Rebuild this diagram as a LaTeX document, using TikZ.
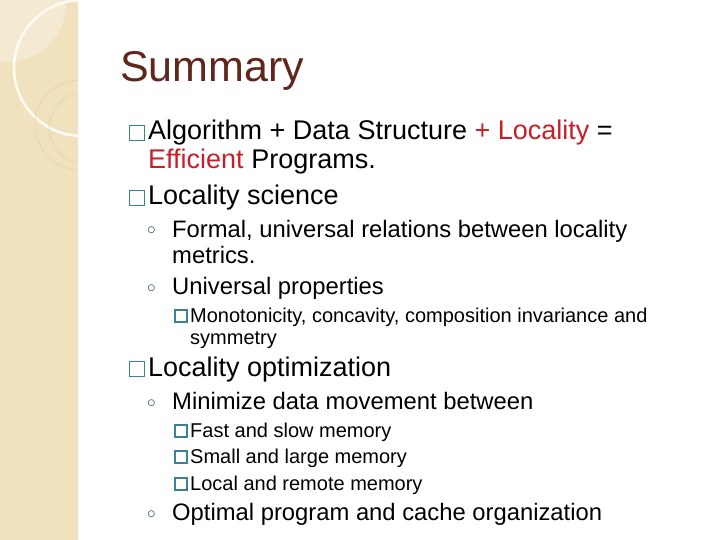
\documentclass[tikz,border=0pt]{standalone}
\usepackage{fontspec}
\setmainfont{Liberation Sans}
\usetikzlibrary{positioning}
\definecolor{band}{RGB}{240,226,190}
\definecolor{titlered}{RGB}{95,38,28}
\definecolor{boxteal}{RGB}{60,130,150}
\definecolor{locred}{RGB}{200,30,40}
\tikzset{
  lvlone/.style={anchor=base west, inner sep=0pt, font=\fontsize{27}{32}\selectfont},
  lvltwo/.style={anchor=base west, inner sep=0pt, font=\fontsize{23.8}{28}\selectfont},
  lvlthree/.style={anchor=base west, inner sep=0pt, font=\fontsize{20}{24}\selectfont},
  sqbig/.style={draw=boxteal, line width=1.3pt, minimum size=15pt, inner sep=0pt},
  sqsmall/.style={draw=boxteal, line width=1.1pt, minimum size=12pt, inner sep=0pt},
  dot/.style={anchor=base west, inner sep=0pt, text=boxteal!60!black, font=\fontsize{16}{20}\selectfont}
}
\begin{document}
\begin{tikzpicture}[x=1pt,y=-1pt]
\useasboundingbox (0,0) rectangle (720,540);
% left band
\fill[band] (0,0) rectangle (78,540);
\begin{scope}
\clip (0,0) rectangle (78,540);
\fill[white, opacity=0.3] (8,4) circle (58);
\draw[white!85!band, line width=2.5pt] (82,68) circle (68);
\draw[band!80!brown, line width=0.5pt] (80,125) circle (45);
\draw[band!80!brown, line width=0.5pt] (84,128) circle (35);
\end{scope}
% title
\node[anchor=base west, inner sep=0pt, text=titlered, font=\fontsize{43}{48}\selectfont] (title) at (120,82) {Summary};
% level one
\node[sqbig] (b1) at (137,133) {};
\node[lvlone] (t1) at (148,140) {Algorithm + Data Structure \textcolor{locred}{+ Locality} =};
\node[lvlone] (t1b) at (148,169) {\textcolor{locred}{Efficient} Programs.};
\node[sqbig] (b2) at (137,198) {};
\node[lvlone] (t2) at (148,205) {Locality science};
\node[dot] (d1) at (147,235) {$\circ$};
\node[lvltwo] (t21) at (172,237) {Formal, universal relations between locality};
\node[lvltwo] (t21b) at (172,263) {metrics.};
\node[dot] (d2) at (147,292) {$\circ$};
\node[lvltwo] (t22) at (172,294) {Universal properties};
\node[sqsmall] (b3) at (181,316) {};
\node[lvlthree] (t3) at (190,322) {Monotonicity, concavity, composition invariance and};
\node[lvlthree] (t3b) at (190,344) {symmetry};
\node[sqbig] (b4) at (137,369) {};
\node[lvlone] (t4) at (148,376) {Locality optimization};
\node[dot] (d3) at (147,407) {$\circ$};
\node[lvltwo] (t41) at (172,409) {Minimize data movement between};
\node[sqsmall] (b5) at (181,431) {};
\node[lvlthree] (t5) at (190,437) {Fast and slow memory};
\node[sqsmall] (b6) at (181,457) {};
\node[lvlthree] (t6) at (190,463) {Small and large memory};
\node[sqsmall] (b7) at (181,484) {};
\node[lvlthree] (t7) at (190,490) {Local and remote memory};
\node[dot] (d4) at (147,518) {$\circ$};
\node[lvltwo] (t42) at (172,520) {Optimal program and cache organization};
\end{tikzpicture}
\end{document}
